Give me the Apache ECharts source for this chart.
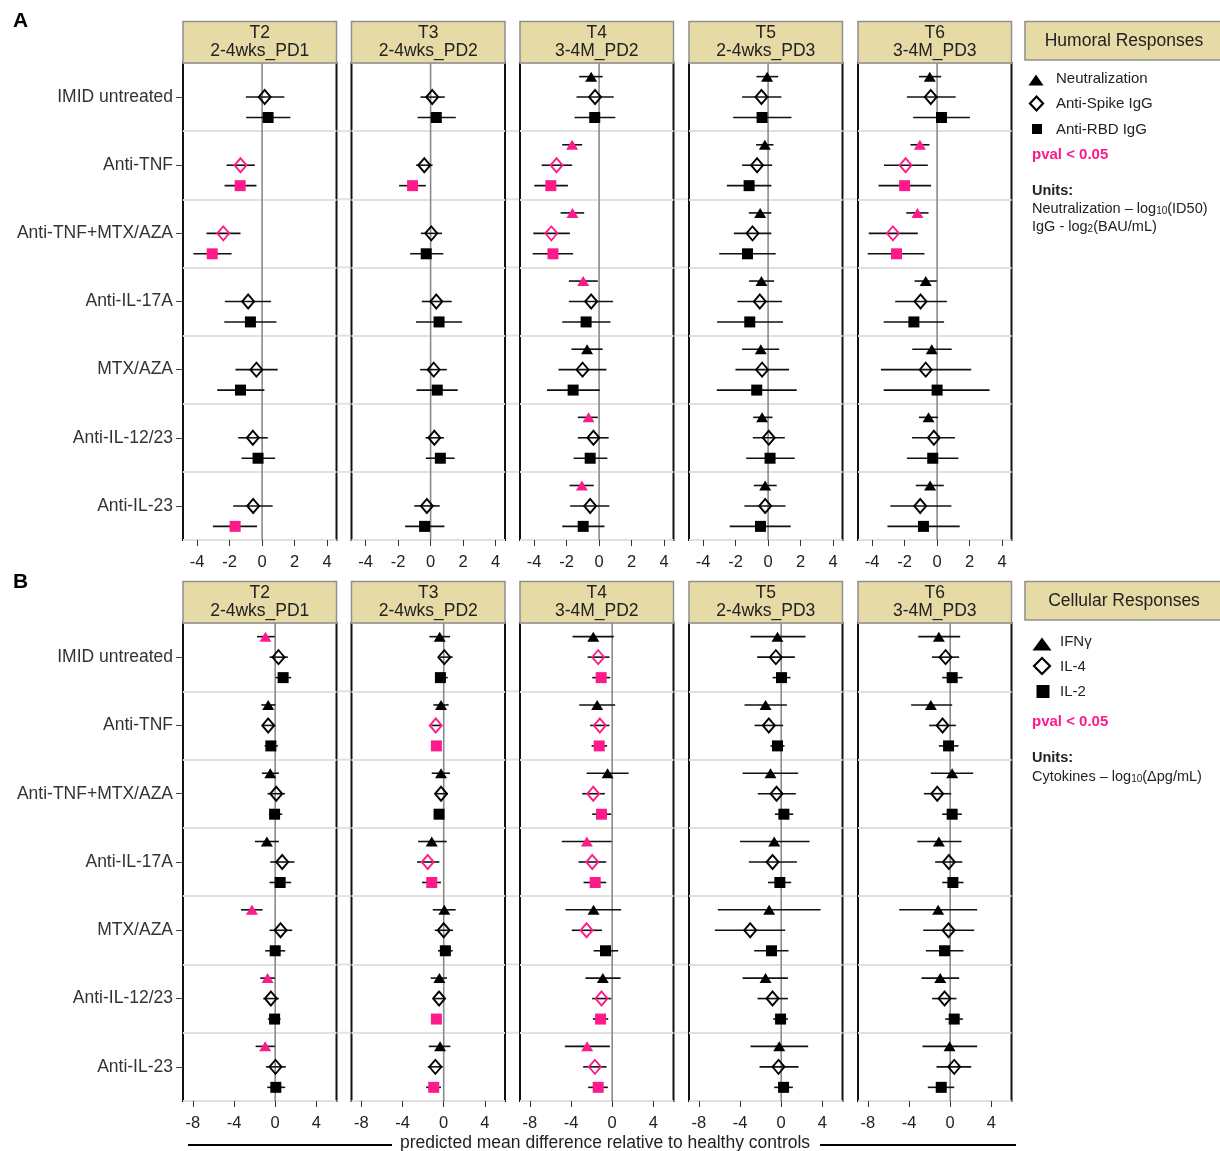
<!DOCTYPE html>
<html><head><meta charset="utf-8">
<script src="https://cdn.jsdelivr.net/npm/echarts@6/dist/echarts.min.js"></script>
<style>html,body{margin:0;padding:0;background:#fff}#c{width:1220px;height:1151px}</style>
</head><body><div id="c"></div><script>
// ---------- DATA ----------
const categories = ['IMID untreated','Anti-TNF','Anti-TNF+MTX/AZA','Anti-IL-17A','MTX/AZA','Anti-IL-12/23','Anti-IL-23'];
const timepoints = ['T2\n2-4wks_PD1','T3\n2-4wks_PD2','T4\n3-4M_PD2','T5\n2-4wks_PD3','T6\n3-4M_PD3'];
const ticksA = [-4,-2,0,2,4];
const ticksB = [-8,-4,0,4];

// Panel A: Neutralization (triangle), per timepoint T2..T6, rows in category order
const neutEst = [null, null,
  [-0.49,-1.66,-1.64,-0.98,-0.74,-0.65,-1.06],
  [-0.06,-0.20,-0.49,-0.41,-0.45,-0.37,-0.18],
  [-0.45,-1.06,-1.21,-0.70,-0.33,-0.53,-0.43]];
const neutLo = [null, null,
  [-1.23,-2.27,-2.37,-1.86,-1.70,-1.31,-1.82],
  [-0.72,-0.74,-1.19,-1.17,-1.60,-0.92,-0.88],
  [-1.12,-1.64,-1.90,-1.39,-1.53,-1.12,-1.31]];
const neutHi = [null, null,
  [0.22,-1.04,-0.92,-0.08,0.22,-0.08,-0.33],
  [0.62,0.33,0.20,0.37,0.68,0.27,0.53],
  [0.25,-0.47,-0.53,-0.02,0.90,0.06,0.41]];
const neutSig = [null, null,
  [0,1,1,1,0,1,1],
  [0,0,0,0,0,0,0],
  [0,1,1,0,0,0,0]];

// Panel A: Anti-Spike IgG (diamond)
const spikeEst = [
  [0.16,-1.33,-2.39,-0.86,-0.35,-0.57,-0.55],
  [0.10,-0.39,0.04,0.35,0.19,0.23,-0.23],
  [-0.25,-2.62,-2.94,-0.49,-1.02,-0.35,-0.55],
  [-0.41,-0.68,-0.96,-0.51,-0.37,0.04,-0.18],
  [-0.39,-1.94,-2.72,-1.02,-0.70,-0.20,-1.04]];
const spikeLo = [
  [-1.00,-2.19,-3.42,-2.29,-1.64,-1.47,-1.78],
  [-0.62,-0.89,-0.60,-0.54,-0.64,-0.31,-1.01],
  [-1.39,-3.54,-4.05,-1.86,-2.50,-1.31,-1.78],
  [-1.60,-1.60,-2.11,-1.89,-2.01,-0.94,-1.46],
  [-1.86,-3.27,-4.21,-2.58,-3.46,-1.55,-2.88]];
const spikeHi = [
  [1.37,-0.45,-1.33,0.55,0.96,0.35,0.65],
  [0.87,0.12,0.70,1.30,1.00,0.82,0.56],
  [0.90,-1.66,-1.80,0.86,0.45,0.59,0.63],
  [0.82,0.25,0.20,0.86,1.29,1.03,1.07],
  [1.14,-0.57,-1.19,0.60,2.10,1.10,0.88]];
const spikeSig = [
  [0,1,1,0,0,0,0],
  [0,0,0,0,0,0,0],
  [0,1,1,0,0,0,0],
  [0,0,0,0,0,0,0],
  [0,1,1,0,0,0,0]];

// Panel A: Anti-RBD IgG (square)
const rbdEst = [
  [0.37,-1.35,-3.07,-0.72,-1.33,-0.25,-1.66],
  [0.35,-1.11,-0.27,0.52,0.41,0.60,-0.37],
  [-0.27,-2.97,-2.84,-0.80,-1.60,-0.55,-0.98],
  [-0.37,-1.17,-1.27,-1.13,-0.70,0.12,-0.47],
  [0.27,-2.00,-2.50,-1.43,0.00,-0.27,-0.84]];
const rbdLo = [
  [-0.98,-2.31,-4.23,-2.33,-2.76,-1.27,-3.03],
  [-0.80,-1.94,-1.26,-0.90,-0.87,-0.29,-1.57],
  [-1.51,-3.99,-4.09,-2.27,-3.21,-1.57,-2.27],
  [-2.15,-2.54,-3.01,-3.14,-3.16,-1.35,-2.36],
  [-1.47,-3.60,-4.27,-3.29,-3.29,-1.86,-3.06]];
const rbdHi = [
  [1.74,-0.35,-1.88,0.88,0.14,0.80,-0.31],
  [1.55,-0.29,0.78,1.94,1.67,1.48,0.85],
  [1.00,-1.92,-1.60,0.70,0.04,0.51,0.33],
  [1.44,0.20,0.47,0.92,1.76,1.64,1.39],
  [2.02,-0.37,-0.78,0.43,3.23,1.31,1.39]];
const rbdSig = [
  [0,1,1,0,0,0,1],
  [0,1,0,0,0,0,0],
  [0,1,1,0,0,0,0],
  [0,0,0,0,0,0,0],
  [0,1,1,0,0,0,0]];

// Panel B: IFNγ (triangle)
const ifngEst = [
  [-0.94,-0.68,-0.48,-0.81,-2.26,-0.74,-0.97],
  [-0.39,-0.26,-0.26,-1.16,0.06,-0.42,-0.35],
  [-1.84,-1.46,-0.45,-2.46,-1.81,-0.91,-2.43],
  [-0.36,-1.52,-1.04,-0.68,-1.17,-1.52,-0.19],
  [-1.10,-1.88,0.19,-1.10,-1.17,-0.97,-0.06]];
const ifngLo = [
  [-1.77,-1.35,-1.29,-1.97,-3.32,-1.45,-1.90],
  [-1.39,-1.00,-1.16,-2.48,-1.06,-1.26,-1.45],
  [-3.85,-3.20,-2.49,-4.89,-4.53,-2.59,-4.60],
  [-2.98,-3.56,-3.75,-4.01,-6.15,-3.75,-2.98],
  [-3.10,-3.79,-1.88,-3.20,-4.95,-2.78,-2.69]];
const ifngHi = [
  [-0.05,0.02,0.35,0.35,-1.23,-0.03,-0.03],
  [0.61,0.48,0.61,0.29,1.16,0.32,0.65],
  [0.16,0.29,1.59,-0.05,0.87,0.81,-0.23],
  [2.36,0.55,1.65,2.75,3.82,0.65,2.62],
  [0.97,0.19,2.23,1.10,2.62,0.87,2.62]];
const ifngSig = [
  [1,0,0,0,1,1,1],
  [0,0,0,0,0,0,0],
  [0,0,0,1,0,0,1],
  [0,0,0,0,0,0,0],
  [0,0,0,0,0,0,0]];

// Panel B: IL-4 (diamond)
const il4Est = [
  [0.32,-0.68,0.10,0.68,0.52,-0.42,0.03],
  [0.06,-0.77,-0.26,-1.55,0.00,-0.45,-0.81],
  [-1.36,-1.20,-1.84,-1.94,-2.49,-1.04,-1.68],
  [-0.52,-1.20,-0.45,-0.84,-3.01,-0.84,-0.26],
  [-0.45,-0.74,-1.26,-0.13,-0.16,-0.55,0.39]];
const il4Lo = [
  [-0.55,-1.29,-0.74,-0.48,-0.55,-1.16,-0.90],
  [-0.35,-1.19,-0.81,-2.58,-0.87,-1.00,-1.55],
  [-2.39,-2.14,-2.91,-3.27,-3.92,-1.94,-2.82],
  [-2.33,-2.59,-2.27,-3.14,-6.44,-2.30,-2.10],
  [-1.78,-2.04,-2.56,-1.46,-2.62,-1.75,-1.33]];
const il4Hi = [
  [1.23,0.00,0.94,1.87,1.65,0.35,1.03],
  [0.87,-0.29,0.42,-0.42,0.90,0.13,-0.10],
  [-0.26,-0.26,-0.71,-0.58,-1.00,-0.10,-0.55],
  [1.33,0.19,1.42,1.52,0.39,0.65,1.68],
  [0.87,0.55,0.10,1.17,2.33,0.61,2.04]];
const il4Sig = [
  [0,0,0,0,0,0,0],
  [0,1,0,1,0,0,0],
  [1,1,1,1,1,1,1],
  [0,0,0,0,0,0,0],
  [0,0,0,0,0,0,0]];

// Panel B: IL-2 (square)
const il2Est = [
  [0.77,-0.42,-0.06,0.48,0.00,-0.06,0.06],
  [-0.32,-0.71,-0.45,-1.16,0.16,-0.71,-0.97],
  [-1.07,-1.26,-1.04,-1.65,-0.65,-1.13,-1.36],
  [0.03,-0.36,0.26,-0.13,-0.94,-0.06,0.23],
  [0.19,-0.16,0.19,0.26,-0.55,0.39,-0.87]];
const il2Lo = [
  [0.03,-1.03,-0.61,-0.55,-0.97,-0.71,-0.77],
  [-0.74,-1.10,-0.87,-2.10,-0.55,-1.10,-1.71],
  [-1.94,-2.00,-1.94,-2.78,-1.81,-1.88,-2.33],
  [-0.84,-1.04,-0.61,-1.29,-2.62,-0.78,-0.68],
  [-0.78,-1.10,-0.78,-0.78,-2.36,-0.49,-2.17]];
const il2Hi = [
  [1.55,0.26,0.68,1.55,0.97,0.52,0.97],
  [0.39,-0.30,0.03,-0.26,0.87,-0.29,-0.26],
  [-0.19,-0.49,-0.10,-0.58,0.58,-0.39,-0.42],
  [0.91,0.32,1.17,0.97,0.71,0.65,1.13],
  [1.20,0.81,1.13,1.29,1.29,1.23,0.39]];
const il2Sig = [
  [0,0,0,0,0,0,0],
  [0,1,0,1,0,1,1],
  [1,1,1,1,0,1,1],
  [0,0,0,0,0,0,0],
  [0,0,0,0,0,0,0]];

// ---------- STYLE / LAYOUT ----------
const PINK = '#FF1A8C';
const FONT = '"Liberation Sans", Arial, sans-serif';
const gridLefts = [183, 351.5, 520, 689, 858];
const gridW = 153.5;
const markers = {
  tri: {symbol: 'triangle', size: [12, 10], hollow: false, off: -0.3},
  dia: {symbol: 'diamond', size: [12, 14], hollow: true, off: 0},
  sq:  {symbol: 'rect', size: [11, 11], hollow: false, off: 0.3}
};
const panels = [
  {top: 63, height: 477, xmin: -4.87, xmax: 4.58, ticks: ticksA, measures: [
    {est: neutEst, lo: neutLo, hi: neutHi, sig: neutSig, m: markers.tri},
    {est: spikeEst, lo: spikeLo, hi: spikeHi, sig: spikeSig, m: markers.dia},
    {est: rbdEst, lo: rbdLo, hi: rbdHi, sig: rbdSig, m: markers.sq}]},
  {top: 623, height: 478, xmin: -8.95, xmax: 5.95, ticks: ticksB, measures: [
    {est: ifngEst, lo: ifngLo, hi: ifngHi, sig: ifngSig, m: markers.tri},
    {est: il4Est, lo: il4Lo, hi: il4Hi, sig: il4Sig, m: markers.dia},
    {est: il2Est, lo: il2Lo, hi: il2Hi, sig: il2Sig, m: markers.sq}]}
];

const grids = [], xAxes = [], yAxes = [], series = [], graphics = [];

panels.forEach((P, pi) => {
  // faint row separators continuing through the gaps between facets
  for (let k = 1; k < categories.length; k++) {
    const yy = P.top + k * P.height / categories.length;
    for (let t = 0; t < 4; t++) {
      graphics.push({type: 'line', silent: true,
        shape: {x1: gridLefts[t] + gridW + 1, y1: yy, x2: gridLefts[t + 1] - 1, y2: yy},
        style: {stroke: '#e2e2e2', lineWidth: 2}});
    }
  }
  for (let t = 0; t < 5; t++) {
    const gi = pi * 5 + t;
    grids.push({left: gridLefts[t], top: P.top, width: gridW, height: P.height,
      show: true, borderColor: '#111', borderWidth: 2, backgroundColor: '#fff', containLabel: false});
    xAxes.push({gridIndex: gi, type: 'value', min: P.xmin, max: P.xmax, position: 'bottom',
      axisLine: {show: false, onZero: false}, splitLine: {show: false},
      axisTick: {show: true, customValues: P.ticks, length: 6, lineStyle: {color: '#333', width: 1}},
      axisLabel: {customValues: P.ticks, fontSize: 16.5, color: '#222', margin: 14, fontFamily: FONT}});
    yAxes.push({gridIndex: gi, type: 'category', data: categories, inverse: true, position: 'left',
      axisLine: {show: false, onZero: false},
      axisTick: {show: t === 0, alignWithLabel: true, length: 7, lineStyle: {color: '#444', width: 1}},
      axisLabel: {show: t === 0, fontSize: 17.5, color: '#333', margin: 10, fontFamily: FONT},
      splitLine: {show: true, lineStyle: {color: '#e0e0e0', width: 2}}});
    yAxes.push({gridIndex: gi, type: 'value', min: -0.5, max: 6.5, inverse: true, show: false,
      axisLine: {onZero: false}});
    const yIdx = gi * 2 + 1;

    // zero reference line
    series.push({type: 'custom', xAxisIndex: gi, yAxisIndex: yIdx, z: 1, silent: true,
      data: [[0]],
      renderItem: (params, api) => {
        const a = api.coord([api.value(0), -0.5]);
        const b = api.coord([api.value(0), 6.5]);
        return {type: 'line', shape: {x1: a[0], y1: a[1], x2: b[0], y2: b[1]},
          style: {stroke: '#8a8a8a', lineWidth: 1.6}};
      }});

    // error bars
    const ebData = [];
    P.measures.forEach(M => {
      if (!M.est[t]) return;
      for (let r = 0; r < 7; r++) ebData.push([M.lo[t][r], M.hi[t][r], r + M.m.off]);
    });
    series.push({type: 'custom', xAxisIndex: gi, yAxisIndex: yIdx, z: 2, silent: true,
      encode: {x: [0, 1], y: 2}, data: ebData,
      renderItem: (params, api) => {
        const a = api.coord([api.value(0), api.value(2)]);
        const b = api.coord([api.value(1), api.value(2)]);
        return {type: 'line', shape: {x1: a[0], y1: a[1], x2: b[0], y2: b[1]},
          style: {stroke: '#111', lineWidth: 1.6}};
      }});

    // markers
    P.measures.forEach(M => {
      if (!M.est[t]) return;
      const data = [];
      for (let r = 0; r < 7; r++) {
        const col = M.sig[t][r] ? PINK : '#000';
        data.push({value: [M.est[t][r], r + M.m.off],
          itemStyle: M.m.hollow
            ? {color: 'rgba(255,255,255,0)', borderColor: col, borderWidth: 1.9, opacity: 1}
            : {color: col, borderWidth: 0, opacity: 1}});
      }
      series.push({type: 'scatter', xAxisIndex: gi, yAxisIndex: yIdx, z: 3, silent: true,
        symbol: M.m.symbol, symbolSize: M.m.size, itemStyle: {opacity: 1}, data: data});
    });

    // header strip
    graphics.push({type: 'rect', shape: {x: gridLefts[t], y: P.top - 41.5, width: gridW, height: 41.5},
      style: {fill: '#E6DAA6', stroke: '#8f8f8f', lineWidth: 1.5}, z: 10});
    graphics.push({type: 'text', x: gridLefts[t] + gridW / 2, y: P.top - 20.5,
      style: {text: timepoints[t], fill: '#222', font: '17.5px ' + FONT, lineHeight: 18,
        textAlign: 'center', textVerticalAlign: 'middle'}, z: 11});
  }
});

// panel letters
graphics.push({type: 'text', x: 13, y: 21, style: {text: 'A', fill: '#000', font: 'bold 21px ' + FONT, textVerticalAlign: 'middle'}});
graphics.push({type: 'text', x: 13, y: 582, style: {text: 'B', fill: '#000', font: 'bold 21px ' + FONT, textVerticalAlign: 'middle'}});

// legend boxes
function legendBlock(y0, title) {
  graphics.push({type: 'rect', shape: {x: 1025, y: y0, width: 205, height: 38.5},
    style: {fill: '#E6DAA6', stroke: '#8f8f8f', lineWidth: 1.5}});
  graphics.push({type: 'text', x: 1124, y: y0 + 19.5, style: {text: title, fill: '#222', font: '17.5px ' + FONT, textAlign: 'center', textVerticalAlign: 'middle'}});
}
function legText(x, y, text, opt) {
  graphics.push({type: 'text', x: x, y: y, style: Object.assign({text: text, fill: '#222', font: '15px ' + FONT, textVerticalAlign: 'middle'}, opt || {})});
}
function richText(x, y, parts) {
  graphics.push({type: 'text', x: x, y: y, style: {text: parts, fill: '#222', textVerticalAlign: 'middle',
    rich: {a: {fontSize: 14.5, fontFamily: FONT, fill: '#222', verticalAlign: 'bottom', lineHeight: 17},
           s: {fontSize: 10, fontFamily: FONT, fill: '#222', verticalAlign: 'bottom', lineHeight: 13}}}});
}
function tri(cx, cy, w, h) {
  graphics.push({type: 'polygon', shape: {points: [[cx, cy - h / 2], [cx + w / 2, cy + h / 2], [cx - w / 2, cy + h / 2]]}, style: {fill: '#000'}});
}
function dia(cx, cy, w, h) {
  graphics.push({type: 'polygon', shape: {points: [[cx, cy - h / 2], [cx + w / 2, cy], [cx, cy + h / 2], [cx - w / 2, cy]]}, style: {fill: 'none', stroke: '#000', lineWidth: 2.2}});
}
function sq(cx, cy, s) {
  graphics.push({type: 'rect', shape: {x: cx - s / 2, y: cy - s / 2, width: s, height: s}, style: {fill: '#000'}});
}

legendBlock(21.5, 'Humoral Responses');
tri(1036, 80, 15, 11); legText(1056, 79, 'Neutralization');
dia(1036.5, 103.5, 13, 14); legText(1056, 104, 'Anti-Spike IgG');
sq(1037, 129, 10); legText(1056, 130, 'Anti-RBD IgG');
legText(1032, 155, 'pval < 0.05', {fill: PINK, font: 'bold 15px ' + FONT});
legText(1032, 191, 'Units:', {font: 'bold 14.5px ' + FONT});
richText(1032, 208, '{a|Neutralization – log}{s|10}{a|(ID50)}');
richText(1032, 226, '{a|IgG - log}{s|2}{a|(BAU/mL)}');

legendBlock(581.5, 'Cellular Responses');
tri(1042, 644, 19, 13); legText(1060, 642, 'IFNγ');
dia(1042, 666, 16, 16); legText(1060, 667, 'IL-4');
sq(1043, 691.5, 13); legText(1060, 692, 'IL-2');
legText(1032, 722, 'pval < 0.05', {fill: PINK, font: 'bold 15px ' + FONT});
legText(1032, 758, 'Units:', {font: 'bold 14.5px ' + FONT});
richText(1032, 776, '{a|Cytokines – log}{s|10}{a|(Δpg/mL)}');

// bottom axis title with flanking lines
graphics.push({type: 'text', x: 605, y: 1143, style: {text: 'predicted mean difference relative to healthy controls', fill: '#222', font: '17.5px ' + FONT, textAlign: 'center', textVerticalAlign: 'middle'}});
graphics.push({type: 'line', shape: {x1: 188, y1: 1145, x2: 392, y2: 1145}, style: {stroke: '#000', lineWidth: 2}});
graphics.push({type: 'line', shape: {x1: 820, y1: 1145, x2: 1016, y2: 1145}, style: {stroke: '#000', lineWidth: 2}});

const chart = echarts.init(document.getElementById('c'), null, {renderer: 'canvas'});
chart.setOption({
  animation: false,
  backgroundColor: '#fff',
  textStyle: {fontFamily: FONT},
  grid: grids, xAxis: xAxes, yAxis: yAxes, series: series,
  graphic: {elements: graphics}
});
</script></body></html>
